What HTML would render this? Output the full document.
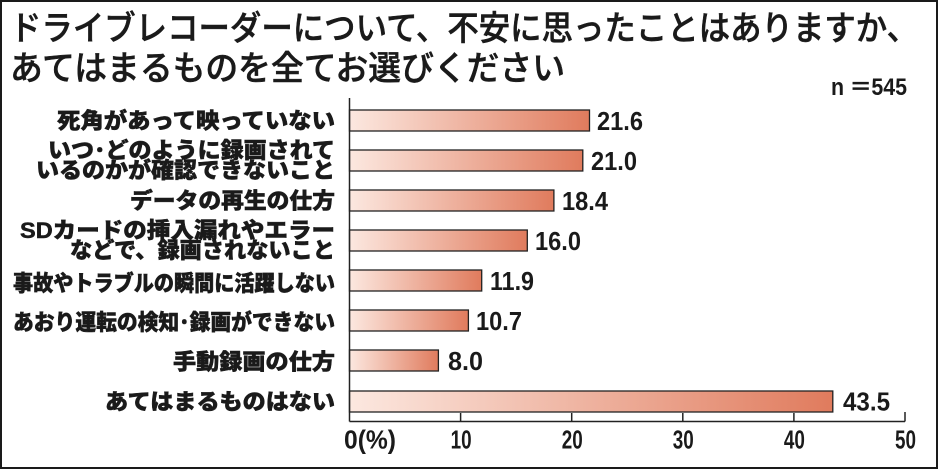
<!DOCTYPE html>
<html><head><meta charset="utf-8"><style>
html,body{margin:0;padding:0;background:#fff;}
svg{display:block;}
.t{font-family:"Liberation Sans","Noto Sans CJK JP",sans-serif;font-weight:500;font-size:34px;fill:#1a1a1a;stroke:#1a1a1a;stroke-width:0.5;}
.l{font-family:"Liberation Sans","Noto Sans CJK JP",sans-serif;font-weight:900;font-size:22px;fill:#1a1a1a;stroke:#1a1a1a;stroke-width:0.5;}
.v{font-family:"Liberation Sans",sans-serif;font-weight:bold;font-size:26px;fill:#1a1a1a;}
</style></head><body>
<svg width="939" height="470" viewBox="0 0 939 470" xmlns="http://www.w3.org/2000/svg">
<defs>
<linearGradient id="g" x1="0" y1="0" x2="1" y2="0">
<stop offset="0" stop-color="#fce8e0"/>
<stop offset="1" stop-color="#e07b5d"/>
</linearGradient>
</defs>
<rect x="0" y="0" width="939" height="470" fill="#fff"/>
<rect x="1" y="1" width="936" height="467" fill="none" stroke="#1a1a1a" stroke-width="2"/>

<text class="t" x="10" y="40" textLength="908" lengthAdjust="spacingAndGlyphs">ドライブレコーダーについて、不安に思ったことはありますか、</text>
<text class="t" x="10" y="80" textLength="555" lengthAdjust="spacingAndGlyphs">あてはまるものを全てお選びください</text>

<text x="831" y="95" font-family="Liberation Sans" font-weight="bold" font-size="24" fill="#1a1a1a" textLength="76" lengthAdjust="spacingAndGlyphs">n ＝545</text>

<!-- labels -->
<text class="l" x="57" y="128.5" textLength="278" lengthAdjust="spacingAndGlyphs">死角があって映っていない</text>
<text class="l" x="48" y="158" textLength="287" lengthAdjust="spacingAndGlyphs">いつ･どのように録画されて</text>
<text class="l" x="36" y="178" textLength="299" lengthAdjust="spacingAndGlyphs">いるのかが確認できないこと</text>
<text class="l" x="130" y="208.5" textLength="205" lengthAdjust="spacingAndGlyphs">データの再生の仕方</text>
<text class="l" x="20" y="238" textLength="315" lengthAdjust="spacingAndGlyphs">SDカードの挿入漏れやエラー</text>
<text class="l" x="70" y="258" textLength="265" lengthAdjust="spacingAndGlyphs">などで、録画されないこと</text>
<text class="l" x="13" y="291" textLength="322" lengthAdjust="spacingAndGlyphs">事故やトラブルの瞬間に活躍しない</text>
<text class="l" x="13" y="330" textLength="322" lengthAdjust="spacingAndGlyphs">あおり運転の検知･録画ができない</text>
<text class="l" x="173" y="369.5" textLength="162" lengthAdjust="spacingAndGlyphs">手動録画の仕方</text>
<text class="l" x="105" y="409.5" textLength="230" lengthAdjust="spacingAndGlyphs">あてはまるものはない</text>

<!-- bars -->
<g stroke="#222" stroke-width="1.3">
<rect x="349.5" y="110" width="240" height="21" fill="url(#g)"/>
<rect x="349.5" y="150" width="233.3" height="21" fill="url(#g)"/>
<rect x="349.5" y="190" width="204.4" height="21" fill="url(#g)"/>
<rect x="349.5" y="230" width="177.8" height="21" fill="url(#g)"/>
<rect x="349.5" y="270" width="132.2" height="21" fill="url(#g)"/>
<rect x="349.5" y="310" width="118.9" height="21" fill="url(#g)"/>
<rect x="349.5" y="350" width="88.9" height="21" fill="url(#g)"/>
<rect x="349.5" y="391" width="483.3" height="21" fill="url(#g)"/>
</g>

<!-- values -->
<text class="v" x="597" y="130" textLength="46" lengthAdjust="spacingAndGlyphs">21.6</text>
<text class="v" x="591" y="170" textLength="46" lengthAdjust="spacingAndGlyphs">21.0</text>
<text class="v" x="562" y="210" textLength="46" lengthAdjust="spacingAndGlyphs">18.4</text>
<text class="v" x="535" y="250" textLength="46" lengthAdjust="spacingAndGlyphs">16.0</text>
<text class="v" x="490" y="290" textLength="44" lengthAdjust="spacingAndGlyphs">11.9</text>
<text class="v" x="476" y="330" textLength="46" lengthAdjust="spacingAndGlyphs">10.7</text>
<text class="v" x="448" y="370" textLength="35" lengthAdjust="spacingAndGlyphs">8.0</text>
<text class="v" x="843" y="410.5" textLength="47" lengthAdjust="spacingAndGlyphs">43.5</text>

<!-- axes -->
<g stroke="#222" stroke-width="1.5" fill="none">
<line x1="349.5" y1="98" x2="349.5" y2="421.5"/>
<line x1="349.5" y1="421.5" x2="905" y2="421.5"/>
<line x1="460.6" y1="413" x2="460.6" y2="421.5"/>
<line x1="571.7" y1="413" x2="571.7" y2="421.5"/>
<line x1="682.8" y1="413" x2="682.8" y2="421.5"/>
<line x1="793.9" y1="413" x2="793.9" y2="421.5"/>
<line x1="905" y1="412" x2="905" y2="421.5"/>
</g>

<text class="v" x="344" y="448.5" textLength="52" lengthAdjust="spacingAndGlyphs">0(%)</text>
<text class="v" x="450.6" y="448.5" textLength="21" lengthAdjust="spacingAndGlyphs">10</text>
<text class="v" x="561.7" y="448.5" textLength="21" lengthAdjust="spacingAndGlyphs">20</text>
<text class="v" x="672.8" y="448.5" textLength="21" lengthAdjust="spacingAndGlyphs">30</text>
<text class="v" x="783.9" y="448.5" textLength="21" lengthAdjust="spacingAndGlyphs">40</text>
<text class="v" x="895" y="448.5" textLength="21" lengthAdjust="spacingAndGlyphs">50</text>
</svg>
</body></html>
